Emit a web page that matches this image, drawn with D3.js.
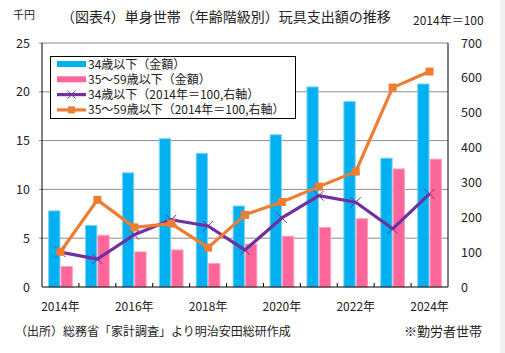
<!DOCTYPE html>
<html>
<head>
<meta charset="utf-8">
<script src="https://cdn.jsdelivr.net/npm/d3@7"></script>
<style>
  body { margin: 0; background: #fff; }
  svg { display: block; font-family: "Noto Sans CJK JP", sans-serif; }
</style>
</head>
<body>
<div id="chart"></div>
<script>
//~~~~~~~~~~~~~~~~~~~~~~~~~~~~~~~~~~~~
// Data
//~~~~~~~~~~~~~~~~~~~~~~~~~~~~~~~~~~~~
const years = [2014, 2015, 2016, 2017, 2018, 2019, 2020, 2021, 2022, 2023, 2024];
const under34Amount = [7.8, 6.3, 11.7, 15.2, 13.7, 8.3, 15.6, 20.5, 19.0, 13.2, 20.8];
const age35to59Amount = [2.1, 5.3, 3.6, 3.8, 2.4, 4.4, 5.2, 6.1, 7.0, 12.1, 13.1];
const under34Index = [100, 80, 150, 193, 175, 106, 198, 262, 243, 167, 267];
const age35to59Index = [101, 250, 171, 182, 113, 207, 244, 288, 331, 572, 618];
const leftTicks = [0, 5, 10, 15, 20, 25];
const rightTicks = [0, 100, 200, 300, 400, 500, 600, 700];
const xLabelYears = [2014, 2016, 2018, 2020, 2022, 2024];
const legendLabels = [
    "34歳以下（金額）",
    "35～59歳以下（金額）",
    "34歳以下（2014年＝100,右軸）",
    "35～59歳以下（2014年＝100,右軸）"
];

//~~~~~~~~~~~~~~~~~~~~~~~~~~~~~~~~~~~~
// Chart
//~~~~~~~~~~~~~~~~~~~~~~~~~~~~~~~~~~~~
const width = 505, height = 353;
const plot = {left: 42, right: 448, top: 43, bottom: 287};
const blue = "#00B0F0", pink = "#FF6699", purple = "#7030A0", orange = "#ED7D31";

const svg = d3.select("#chart").append("svg")
    .attr("width", width)
    .attr("height", height);

// light strip on the right edge
svg.append("rect").attr("x", 500).attr("y", 0).attr("width", 5).attr("height", height).attr("fill", "#f0f0f0");

const x = d3.scaleBand().domain(years).range([plot.left, plot.right]).paddingInner(0.33).paddingOuter(0.165);
const xCat = d3.scaleBand().domain(years).range([plot.left, plot.right]);
const yL = d3.scaleLinear().domain([0, 25]).range([plot.bottom, plot.top]);
const yR = d3.scaleLinear().domain([0, 700]).range([plot.bottom, plot.top]);

// gridlines
svg.append("g").selectAll("line")
    .data(leftTicks.filter(d => d > 0))
    .join("line")
    .attr("x1", plot.left - 3).attr("x2", plot.right)
    .attr("y1", d => yL(d)).attr("y2", d => yL(d))
    .attr("stroke", "#8c8c8c").attr("stroke-width", 1);

// bars
const bw = x.bandwidth() / 2;
svg.append("g").selectAll("rect")
    .data(years)
    .join("rect")
    .attr("x", d => x(d) + 0.5)
    .attr("y", (d, i) => yL(under34Amount[i]))
    .attr("width", bw - 1)
    .attr("height", (d, i) => yL(0) - yL(under34Amount[i]))
    .attr("fill", blue).attr("stroke", "#7fd3f5").attr("stroke-width", 1);

svg.append("g").selectAll("rect")
    .data(years)
    .join("rect")
    .attr("x", d => x(d) + bw + 0.5)
    .attr("y", (d, i) => yL(age35to59Amount[i]))
    .attr("width", bw - 1)
    .attr("height", (d, i) => yL(0) - yL(age35to59Amount[i]))
    .attr("fill", pink).attr("stroke", "#ffa3c2").attr("stroke-width", 1);

// axes frame
svg.append("line").attr("x1", plot.left).attr("x2", plot.left).attr("y1", plot.top).attr("y2", plot.bottom).attr("stroke", "#000");
svg.append("line").attr("x1", plot.right).attr("x2", plot.right).attr("y1", plot.top).attr("y2", plot.bottom).attr("stroke", "#000");
svg.append("line").attr("x1", plot.left).attr("x2", plot.right).attr("y1", plot.bottom).attr("y2", plot.bottom).attr("stroke", "#000");

// category ticks (inward)
svg.append("g").selectAll("line")
    .data(years.slice(1))
    .join("line")
    .attr("x1", d => xCat(d)).attr("x2", d => xCat(d))
    .attr("y1", plot.bottom).attr("y2", plot.bottom - 4)
    .attr("stroke", "#000");

// lines
const cx = d => xCat(d) + xCat.bandwidth() / 2;
const line34 = d3.line().x((d, i) => cx(years[i])).y(d => yR(d));

svg.append("path")
    .attr("d", line34(under34Index))
    .attr("fill", "none").attr("stroke", purple).attr("stroke-width", 3.2)
    .attr("stroke-linejoin", "round");

svg.append("g").selectAll("path")
    .data(under34Index)
    .join("path")
    .attr("d", (d, i) => {
        const px = cx(years[i]), py = yR(d), s = 5;
        return `M${px - s},${py - s}L${px + s},${py + s}M${px - s},${py + s}L${px + s},${py - s}`;
    })
    .attr("stroke", purple).attr("stroke-width", 1);

svg.append("path")
    .attr("d", line34(age35to59Index))
    .attr("fill", "none").attr("stroke", orange).attr("stroke-width", 3.2)
    .attr("stroke-linejoin", "round");

svg.append("g").selectAll("rect")
    .data(age35to59Index)
    .join("rect")
    .attr("x", (d, i) => cx(years[i]) - 4)
    .attr("y", d => yR(d) - 4)
    .attr("width", 8).attr("height", 8)
    .attr("fill", orange);

// axis labels
svg.append("g").selectAll("text")
    .data(leftTicks)
    .join("text")
    .attr("x", 30).attr("y", d => yL(d) + 4.5)
    .attr("text-anchor", "end")
    .attr("font-size", 12.5).attr("fill", "#222")
    .text(d => d);

svg.append("g").selectAll("text")
    .data(rightTicks)
    .join("text")
    .attr("x", 461).attr("y", d => yR(d) + 4.5)
    .attr("font-size", 12.5).attr("fill", "#222")
    .text(d => d);

svg.append("g").selectAll("text")
    .data(xLabelYears)
    .join("text")
    .attr("x", d => cx(d)).attr("y", 311)
    .attr("text-anchor", "middle")
    .attr("font-size", 12).attr("fill", "#222")
    .text(d => d + "年");

// titles
svg.append("text").attr("x", 13).attr("y", 19).attr("font-size", 11).attr("fill", "#222").text("千円");
svg.append("text").attr("x", 61).attr("y", 22).attr("font-size", 14).attr("fill", "#222").text("（図表4）単身世帯（年齢階級別）玩具支出額の推移");
svg.append("text").attr("x", 413).attr("y", 25).attr("font-size", 12).attr("fill", "#222").text("2014年＝100");

// footer
svg.append("text").attr("x", 15).attr("y", 336).attr("font-size", 12).attr("fill", "#222").text("（出所）総務省「家計調査」より明治安田総研作成");
svg.append("text").attr("x", 482).attr("y", 336).attr("text-anchor", "end").attr("font-size", 13).attr("fill", "#222").text("※勤労者世帯");

// legend
const legend = svg.append("g");
legend.append("rect").attr("x", 50.5).attr("y", 56.5).attr("width", 245).attr("height", 62)
    .attr("fill", "#fff").attr("stroke", "#000");
const rowY = i => 64 + i * 15.3;
legendLabels.forEach((label, i) => {
    const y = rowY(i);
    if (i < 2) {
        legend.append("rect").attr("x", 57).attr("y", y - 3).attr("width", 29).attr("height", 6)
            .attr("fill", i === 0 ? blue : pink);
    } else {
        const c = i === 2 ? purple : orange;
        legend.append("line").attr("x1", 57).attr("x2", 86).attr("y1", y).attr("y2", y)
            .attr("stroke", c).attr("stroke-width", 3.2);
        if (i === 2) {
            legend.append("path").attr("d", `M${71.5 - 4},${y - 4}L${71.5 + 4},${y + 4}M${71.5 - 4},${y + 4}L${71.5 + 4},${y - 4}`)
                .attr("stroke", purple).attr("stroke-width", 1);
        } else {
            legend.append("rect").attr("x", 68).attr("y", y - 3.5).attr("width", 7).attr("height", 7).attr("fill", orange);
        }
    }
    legend.append("text").attr("x", 88).attr("y", y + 4.5)
        .attr("font-size", 12).attr("fill", "#222").text(label);
});
</script>
</body>
</html>
